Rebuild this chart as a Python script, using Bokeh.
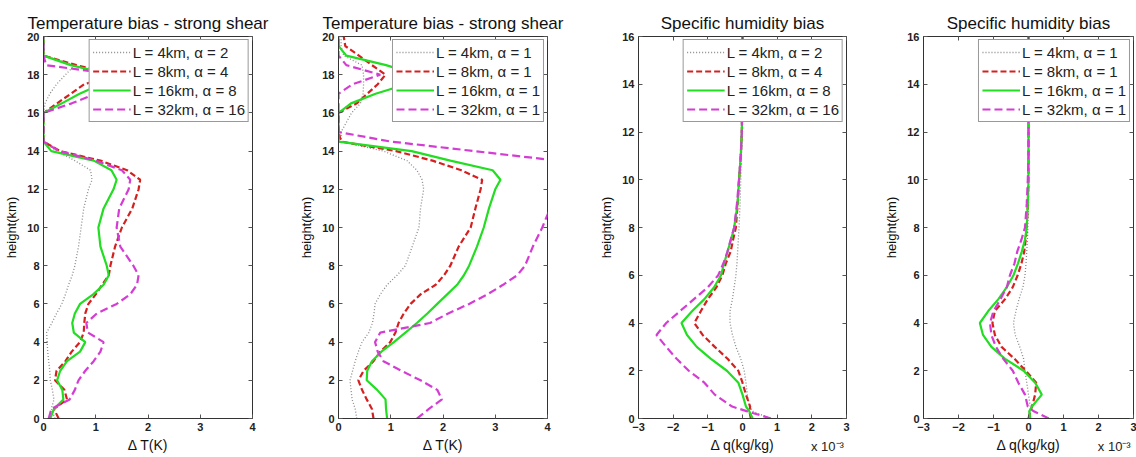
from bokeh.plotting import figure
from bokeh.layouts import row
from bokeh.models import LinearAxis, FixedTicker, Range1d, Legend, LegendItem
from bokeh.embed import file_html
from bokeh.resources import INLINE

FONT = "Liberation Sans"

# ---------------- data ----------------
# heights (km) for temperature panels
H_T = [0, 0.5, 1, 1.5, 2, 2.5, 3, 3.5, 4, 4.5, 5, 5.5, 6, 6.5, 7, 7.5, 8, 9, 10, 11, 12, 12.5,
       13, 13.5, 14, 14.5, 15, 16, 16.5, 17, 17.5, 18, 18.5, 19, 19.5, 20]

# Panel 1: temperature bias, strong shear, scaled alpha (K)
t1_L4 = [0.22, 0.15, 0.2, 0.17, 0.13, 0.12, 0.1, 0.08, 0.07, 0.06, 0.16, 0.25, 0.35, 0.42, 0.48, 0.55, 0.6, 0.67,
         0.72, 0.77, 0.86, 0.93, 0.9, 0.6, 0.25, 0.0, 0.0, 0.0, 0.03, 0.12, 0.25, 0.42, 0.6, 0.0, 0.0, 0.0]
t1_L8 = [0.29, 0.2, 0.45, 0.4, 0.22, 0.25, 0.42, 0.54, 0.7, 0.77, 0.78, 0.8, 0.86, 1.0, 1.12, 1.25, 1.28, 1.37,
         1.5, 1.7, 1.82, 1.85, 1.6, 1.09, 0.32, 0.0, 0.0, 0.0, 0.26, 0.52, 0.78, 1.4, 0.63, 0.0, 0.0, 0.0]
t1_L16 = [0.13, 0.2, 0.38, 0.36, 0.26, 0.32, 0.45, 0.7, 0.8, 0.58, 0.55, 0.6, 0.7, 0.95, 1.15, 1.25, 1.21, 1.09,
          1.05, 1.15, 1.34, 1.4, 1.3, 0.96, 0.15, 0.0, 0.0, 0.0, 0.35, 0.69, 1.1, 1.3, 0.52, 0.0, 0.0, 0.0]
t1_L32 = [0.1, 0.15, 0.5, 0.6, 0.67, 0.8, 0.96, 1.09, 1.15, 0.85, 0.82, 1.02, 1.4, 1.66, 1.79, 1.82, 1.72, 1.47,
          1.4, 1.45, 1.63, 1.66, 1.5, 1.0, 0.3, 0.0, 0.0, 0.0, 0.54, 1.0, 1.3, 1.4, 0.05, 0.0, 0.0, 0.0]

# Panel 2: temperature bias, strong shear, alpha = 1 (K)
t2_L4 = [0.35, 0.32, 0.26, 0.24, 0.22, 0.27, 0.32, 0.38, 0.45, 0.58, 0.65, 0.68, 0.7, 0.8, 0.93, 1.12, 1.28, 1.41,
         1.54, 1.57, 1.63, 1.6, 1.5, 1.31, 0.86, 0.05, 0.05, 0.25, 0.42, 0.47, 0.48, 0.48, 0.45, 0.1, 0.05, 0.05]
t2_L8 = [0.67, 0.64, 0.54, 0.45, 0.38, 0.48, 0.67, 0.8, 0.99, 1.09, 1.15, 1.25, 1.38, 1.57, 1.86, 2.02, 2.14, 2.3,
         2.53, 2.62, 2.72, 2.75, 2.35, 1.8, 1.1, 0.05, 0.0, 0.0, 0.35, 0.55, 0.75, 0.9, 0.64, 0.39, 0.13, 0.1]
t2_L16 = [0.93, 0.91, 0.9, 0.74, 0.54, 0.55, 0.64, 0.82, 1.06, 1.28, 1.5, 1.7, 1.89, 2.08, 2.27, 2.4, 2.5, 2.65,
          2.78, 2.88, 3.0, 3.1, 2.95, 2.14, 1.4, 0.0, 0.0, 0.0, 0.24, 0.71, 1.3, 1.5, 0.91, 0.15, 0.0, 0.0]
t2_L32 = [1.5, 1.73, 1.98, 1.89, 1.57, 1.2, 0.86, 0.75, 0.7, 0.8, 1.75, 2.1, 2.5, 2.85, 3.15, 3.42, 3.57, 3.72,
          3.9, 4.05, 4.3, 4.4, 4.4, 4.2, 2.6, 1.0, 0.0, 0.0, 0.0, 0.0, 0.27, 0.8, 0.15, 0.0, 0.0, 0.0]

# heights (km) for humidity panels
H_Q = [0, 0.3, 0.5, 1, 1.5, 2, 2.5, 3, 3.5, 4, 4.5, 5, 5.5, 6, 6.5, 7, 7.5, 8, 9, 10, 11, 12, 14, 16]

# Panel 3: specific humidity bias, scaled alpha (x 1e-3 kg/kg)
q3_L4 = [0.8, 0.3, 0.2, 0.14, 0.1, 0.05, -0.05, -0.19, -0.29, -0.36, -0.36, -0.29, -0.24, -0.19, -0.16, -0.14,
         -0.12, -0.1, -0.07, -0.05, -0.03, 0.0, 0.0, 0.0]
q3_L8 = [0.24, 0.2, 0.22, 0.1, 0.0, -0.12, -0.43, -0.8, -1.15, -1.39, -1.2, -1.0, -0.75, -0.58, -0.48, -0.34,
         -0.27, -0.19, -0.14, -0.1, -0.05, -0.02, 0.0, 0.0]
q3_L16 = [0.29, 0.2, 0.1, 0.0, -0.12, -0.45, -0.91, -1.32, -1.6, -1.76, -1.45, -1.1, -0.82, -0.62, -0.53, -0.43,
          -0.33, -0.24, -0.14, -0.1, -0.05, -0.02, 0.0, 0.0]
q3_L32 = [0.82, 0.14, -0.3, -0.8, -1.1, -1.55, -1.9, -2.2, -2.48, -2.2, -1.8, -1.4, -1.0, -0.7, -0.55, -0.43,
          -0.34, -0.24, -0.16, -0.1, -0.05, -0.02, 0.0, 0.0]

# Panel 4: specific humidity bias, alpha = 1 (x 1e-3 kg/kg)
q4_L4 = [0.05, 0.05, 0.05, 0.0, -0.05, -0.1, -0.14, -0.25, -0.38, -0.43, -0.36, -0.27, -0.16, -0.1, -0.07, -0.05,
         -0.03, -0.02, 0.0, 0.0, 0.0, 0.0, 0.0, 0.0]
q4_L8 = [0.0, 0.05, 0.1, 0.19, 0.22, -0.08, -0.4, -0.77, -0.96, -1.03, -0.96, -0.67, -0.45, -0.31, -0.2, -0.12,
         -0.08, -0.05, -0.02, 0.0, 0.0, 0.0, 0.0, 0.0]
q4_L16 = [0.05, 0.02, 0.1, 0.38, 0.19, -0.14, -0.67, -1.06, -1.3, -1.39, -1.15, -0.86, -0.62, -0.43, -0.3, -0.19,
          -0.1, -0.05, -0.02, 0.0, 0.0, 0.0, 0.0, 0.0]
q4_L32 = [0.58, 0.15, -0.02, -0.1, -0.29, -0.45, -0.72, -0.93, -1.06, -1.1, -1.0, -0.8, -0.62, -0.53, -0.4, -0.32,
          -0.2, -0.1, -0.05, -0.02, 0.0, 0.0, 0.0, 0.0]

labels_scaled = ["L = 4km, α = 2", "L = 8km, α = 4", "L = 16km, α = 8", "L = 32km, α = 16"]
labels_one = ["L = 4km, α = 1", "L = 8km, α = 1", "L = 16km, α = 1", "L = 32km, α = 1"]

TITLE_T = "Temperature bias - strong shear"
TITLE_Q = "Specific humidity bias"
XLAB_T = "Δ T(K)"
XLAB_Q = "Δ q(kg/kg)"
XPOW = "x 10⁻³"
XPOW_AT = 2.45         # x position (axis units) of the multiplier note
YLAB = "height(km)"
XT_T = [0, 1, 2, 3, 4]
XT_Q = [-3, -2, -1, 0, 1, 2, 3]
YT_T = list(range(0, 21, 2))
YT_Q = list(range(0, 17, 2))

STYLES = [
    dict(line_color="#8a8a8a", line_width=1.3, line_dash="1 2"),
    dict(line_color="#d62020", line_width=2.2, line_dash="6 3"),
    dict(line_color="#22dd22", line_width=2.2),
    dict(line_color="#d43cd4", line_width=2.2, line_dash="8 4"),
]


def panel(title, xr, yr, xt, yt, xlabel, H, series, labels, width, bl, br, power=False):
    p = figure(width=width, height=456, x_range=Range1d(*xr), y_range=Range1d(*yr),
               output_backend="svg", toolbar_location=None,
               min_border_left=bl, min_border_right=br, min_border_top=36, min_border_bottom=37)
    p.grid.visible = False
    p.outline_line_color = "#333333"
    p.outline_line_width = 1
    p.title.text = title
    p.title.align = "center"
    p.title.text_font = FONT
    p.title.text_font_size = "17px"
    p.title.text_font_style = "normal"
    p.title.text_color = "#111111"
    p.title.offset = 0
    p.title.standoff = 7

    for ax, ticks in ((p.xaxis[0], xt), (p.yaxis[0], yt)):
        ax.ticker = FixedTicker(ticks=ticks)
        ax.major_tick_in = 4
        ax.major_tick_out = 0
        ax.minor_tick_line_color = None
        ax.major_label_text_font = FONT
        ax.major_label_text_font_size = "11px"
        ax.major_label_text_font_style = "bold"
        ax.major_label_text_color = "#222222"
        ax.axis_label_text_font = FONT
        ax.axis_label_text_font_style = "normal"
        ax.axis_label_text_color = "#111111"
        ax.axis_line_color = "#333333"
        ax.major_tick_line_color = "#555555"
        ax.major_label_standoff = 4
    p.xaxis.axis_label = xlabel
    p.xaxis.axis_label_text_font_size = "14px"
    p.xaxis.axis_label_standoff = 3
    p.yaxis.axis_label = YLAB
    p.yaxis.axis_label_text_font_size = "13px"
    p.yaxis.axis_label_standoff = 5

    for loc, ticks in (("above", xt), ("right", yt)):
        ax = LinearAxis(ticker=FixedTicker(ticks=ticks))
        ax.major_tick_in = 4
        ax.major_tick_out = 0
        ax.minor_tick_line_color = None
        ax.major_label_text_color = None
        ax.major_label_text_alpha = 0
        ax.major_label_standoff = 0
        ax.axis_line_color = None
        ax.major_tick_line_color = "#555555"
        p.add_layout(ax, loc)

    items = []
    for vals, lab, st in zip(series, labels, STYLES):
        r = p.line(x=vals, y=H, **st)
        items.append(LegendItem(label=lab, renderers=[r]))
    leg = Legend(items=items, location="top_right", margin=3, padding=3, spacing=1,
                 glyph_width=38, glyph_height=18, label_height=18, label_standoff=2,
                 label_text_font=FONT, label_text_font_size="15px", label_text_color="#222222",
                 border_line_color="#333333", border_line_width=1,
                 background_fill_color="white", background_fill_alpha=1.0)
    p.add_layout(leg)

    if power:
        # "x 10^-3" multiplier: a label-only axis row pulled up beside the axis title
        ax = LinearAxis(ticker=FixedTicker(ticks=[XPOW_AT]),
                        major_label_overrides={XPOW_AT: XPOW})
        ax.major_tick_in = 0
        ax.major_tick_out = 0
        ax.major_tick_line_color = None
        ax.minor_tick_line_color = None
        ax.axis_line_color = None
        ax.major_label_standoff = -17
        ax.major_label_text_font = FONT
        ax.major_label_text_font_size = "13px"
        ax.major_label_text_color = "#222222"
        p.add_layout(ax, "below")
    return p


p1 = panel(TITLE_T, (0, 4), (0, 20), XT_T, YT_T, XLAB_T, H_T,
           [t1_L4, t1_L8, t1_L16, t1_L32], labels_scaled, 295, 43, 43)
p2 = panel(TITLE_T, (0, 4), (0, 20), XT_T, YT_T, XLAB_T, H_T,
           [t2_L4, t2_L8, t2_L16, t2_L32], labels_one, 295, 43, 43)
p3 = panel(TITLE_Q, (-3, 3), (0, 16), XT_Q, YT_Q, XLAB_Q, H_Q,
           [q3_L4, q3_L8, q3_L16, q3_L32], labels_scaled, 290, 48, 34, power=True)
p4 = panel(TITLE_Q, (-3, 3), (0, 16), XT_Q, YT_Q, XLAB_Q, H_Q,
           [q4_L4, q4_L8, q4_L16, q4_L32], labels_one, 256, 43, 3, power=True)

layout = row(p1, p2, p3, p4, spacing=0)
open("out.html", "w").write(file_html(layout, INLINE))
